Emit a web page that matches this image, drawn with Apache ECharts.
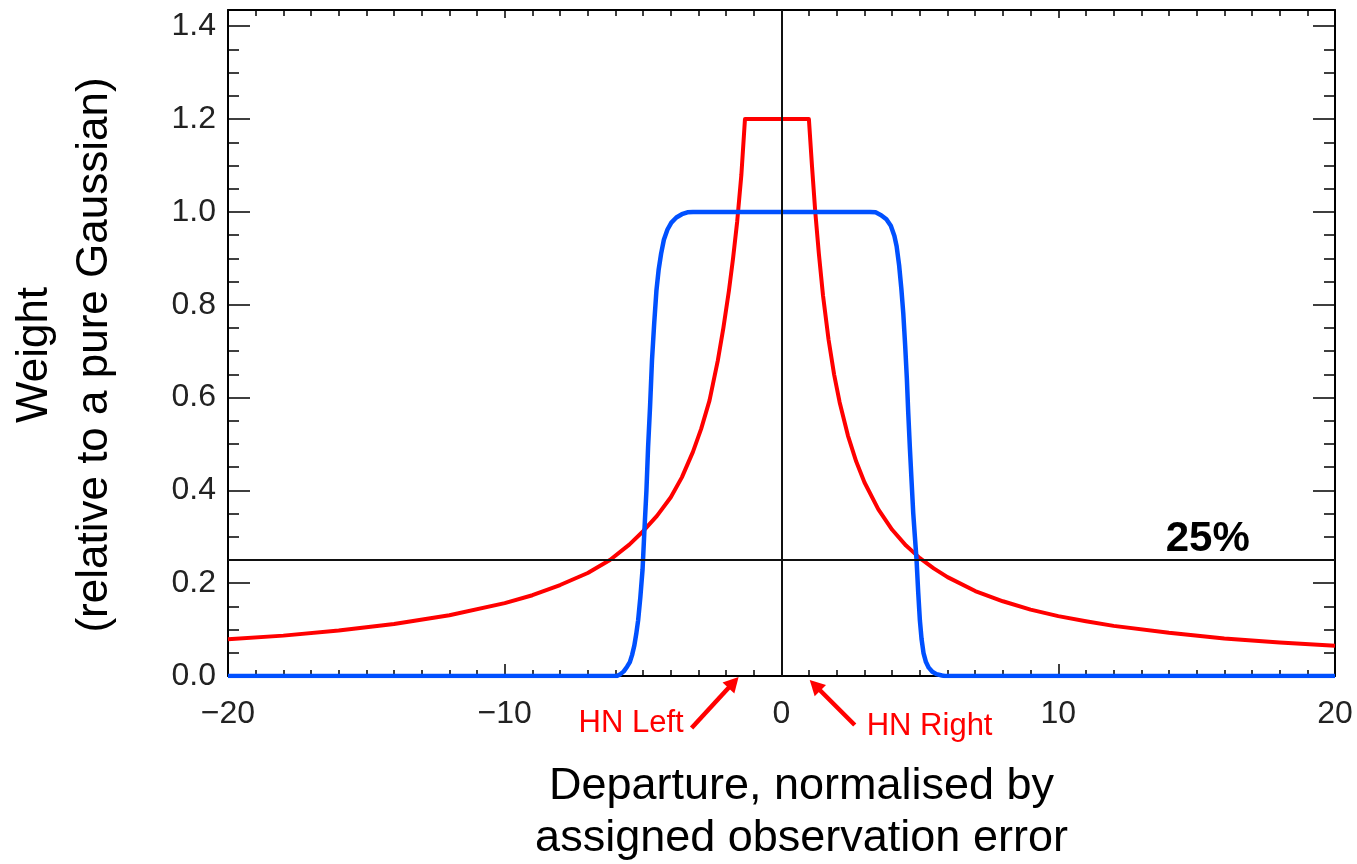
<!DOCTYPE html>
<html>
<head>
<meta charset="utf-8">
<title>Weight relative to a pure Gaussian</title>
<script src="https://cdn.jsdelivr.net/npm/echarts@6/dist/echarts.min.js"></script>
<style>
  html, body { margin: 0; padding: 0; background: #fff; }
  #chart { width: 1357px; height: 864px; }
</style>
</head>
<body>
<div id="chart"></div>
<script>
// red curve (Huber norm weight)
var redX = [-20, -18, -16, -14, -12, -10, -9, -8, -7, -6.2, -5.5, -5, -4.5, -4, -3.6, -3.2, -2.9, -2.6, -2.3, -2.1, -1.9, -1.75, -1.6, -1.45, -1.32,
            0.99, 1.1, 1.22, 1.35, 1.5, 1.7, 1.9, 2.1, 2.4, 2.7, 3.0, 3.5, 4.0, 4.5, 5.0, 5.5, 6, 7, 8, 9, 10, 11, 12, 14, 16, 18, 20];
var redW = [0.079, 0.087, 0.098, 0.112, 0.131, 0.157, 0.174, 0.196, 0.222, 0.25, 0.283, 0.312, 0.345, 0.385, 0.428, 0.483, 0.533, 0.594, 0.68, 0.75, 0.83, 0.9, 0.98, 1.08, 1.2,
            1.2, 1.1, 1.0, 0.91, 0.82, 0.725, 0.65, 0.59, 0.518, 0.462, 0.417, 0.359, 0.315, 0.281, 0.254, 0.232, 0.213, 0.183, 0.161, 0.143, 0.129, 0.118, 0.108, 0.093, 0.081, 0.072, 0.065];

// blue curve (pure Gaussian weight)
var blueX = [-20, -5.95, -5.82, -5.7, -5.58, -5.48, -5.4, -5.32, -5.25, -5.18, -5.1, -5.02, -4.95, -4.88, -4.82, -4.75, -4.68, -4.6, -4.52, -4.44, -4.35, -4.25, -4.12, -3.98, -3.8, -3.6, -3.4, -3.2,
             3.2, 3.4, 3.6, 3.79, 3.95, 4.08, 4.16, 4.25, 4.33, 4.4, 4.47, 4.53, 4.58, 4.64, 4.7, 4.76, 4.82, 4.88, 4.94, 5.0, 5.06, 5.13, 5.22, 5.32, 5.45, 5.6, 5.8, 5.9, 20];
var blueW = [0, 0, 0.004, 0.01, 0.02, 0.03, 0.045, 0.065, 0.09, 0.12, 0.17, 0.23, 0.318, 0.4, 0.494, 0.58, 0.68, 0.76, 0.83, 0.875, 0.91, 0.94, 0.962, 0.977, 0.988, 0.995, 0.999, 1.0,
             1.0, 0.999, 0.993, 0.984, 0.97, 0.948, 0.926, 0.885, 0.835, 0.782, 0.71, 0.64, 0.567, 0.49, 0.42, 0.351, 0.3, 0.25, 0.18, 0.12, 0.08, 0.05, 0.03, 0.018, 0.009, 0.004, 0.001, 0, 0];

var xTicks = [-20, -10, 0, 10, 20];
var yMajor = 0.2, yMinor = 0.05;
var threshold = 0.25;
var thresholdLabel = '25%';
var hnLabels = ['HN Left', 'HN Right'];
var hnTips = [-1.55, 1.02];

function pairs(xs, ys) {
  var out = [];
  for (var i = 0; i < xs.length; i++) out.push([xs[i], ys[i]]);
  return out;
}

var chart = echarts.init(document.getElementById('chart'));
var frame = { show: true, onZero: false, lineStyle: { color: '#000', width: 2 } };
var noLine = { show: false, onZero: false };
var tickStyle = { color: '#000', width: 1.5 };
var fontFam = '"Liberation Sans", Arial, Helvetica, sans-serif';

chart.setOption({
  animation: false,
  grid: { left: 228, right: 22, top: 10, bottom: 188, outerBoundsMode: 'none', containLabel: false },
  xAxis: [{
    type: 'value', position: 'bottom', min: xTicks[0], max: xTicks[xTicks.length - 1], interval: 10,
    axisLine: frame,
    axisTick: { inside: true, length: 12, lineStyle: tickStyle },
    minorTick: { show: true, splitNumber: 10, length: 6, lineStyle: tickStyle },
    splitLine: { show: false },
    axisLabel: { margin: 22, fontSize: 32, color: '#222', fontFamily: fontFam,
      formatter: function (v) { return v < 0 ? '\u2212' + Math.abs(v) : String(v); } },
    name: 'Departure, normalised by\nassigned observation error',
    nameLocation: 'middle', nameGap: 85,
    nameTextStyle: { fontSize: 45, lineHeight: 52, color: '#000', fontFamily: fontFam, padding: [0, 0, 0, 40] }
  }, {
    type: 'value', position: 'top', min: -20, max: 20, interval: 10,
    axisLine: frame,
    axisTick: { inside: true, length: 8, lineStyle: tickStyle },
    minorTick: { show: true, splitNumber: 10, length: 6, lineStyle: tickStyle },
    splitLine: { show: false }, axisLabel: { show: false }
  }],
  yAxis: [{
    type: 'value', position: 'left', min: 0, max: 1.435, interval: yMajor,
    axisLine: frame,
    axisTick: { inside: true, length: 22, lineStyle: tickStyle },
    splitLine: { show: false },
    axisLabel: { margin: 12, fontSize: 32, color: '#222', fontFamily: fontFam, showMaxLabel: false,
      formatter: function (v) { return v.toFixed(1); } },
    name: 'Weight\n(relative to a pure Gaussian)',
    nameLocation: 'middle', nameGap: 103, nameRotate: 90,
    nameTextStyle: { fontSize: 44, lineHeight: 60, color: '#000', fontFamily: fontFam, padding: [0, 24, 0, 0] }
  }, {
    type: 'value', position: 'left', min: 0, max: 1.435, interval: yMinor,
    axisLine: noLine,
    axisTick: { inside: true, length: 11, lineStyle: tickStyle },
    splitLine: { show: false }, axisLabel: { show: false }
  }, {
    type: 'value', position: 'right', min: 0, max: 1.435, interval: yMajor,
    axisLine: frame,
    axisTick: { inside: true, length: 22, lineStyle: tickStyle },
    splitLine: { show: false }, axisLabel: { show: false }
  }, {
    type: 'value', position: 'right', min: 0, max: 1.435, interval: yMinor,
    axisLine: noLine,
    axisTick: { inside: true, length: 11, lineStyle: tickStyle },
    splitLine: { show: false }, axisLabel: { show: false }
  }],
  series: [{
    name: 'Huber', type: 'line', data: pairs(redX, redW), showSymbol: false, symbol: 'none',
    lineStyle: { color: '#ff0000', width: 4, join: 'round' }, z: 3
  }, {
    name: 'Gaussian', type: 'line', data: pairs(blueX, blueW), showSymbol: false, symbol: 'none',
    lineStyle: { color: '#0050ff', width: 4.5, join: 'round' }, z: 4
  }, {
    name: 'ref', type: 'line', data: [], z: 6,
    markLine: {
      silent: true, symbol: 'none', animation: false,
      label: { show: false },
      lineStyle: { color: '#111', width: 2, type: 'solid' },
      data: [{ xAxis: 0 }, { yAxis: threshold }]
    },
    markPoint: {
      silent: true, symbol: 'circle', symbolSize: 1,
      itemStyle: { color: 'rgba(0,0,0,0)' },
      label: { show: true, formatter: thresholdLabel, offset: [0, -21], color: '#000',
        fontSize: 42, fontWeight: 'bold', fontFamily: fontFam },
      data: [{ coord: [15.4, threshold] }]
    }
  }]
});

// HN arrows below the x axis
var gfx = [];
var tails = [[-47, 51], [45, 45]];
var textOff = [[-55, 46], [57, 46]];
for (var i = 0; i < hnTips.length; i++) {
  var p = chart.convertToPixel({ xAxisIndex: 0, yAxisIndex: 0 }, [hnTips[i], 0]);
  var tip = [p[0], p[1] + (i === 0 ? 1 : 4)];
  var tail = [tip[0] + tails[i][0], tip[1] + tails[i][1]];
  var dx = tip[0] - tail[0], dy = tip[1] - tail[1];
  var len = Math.sqrt(dx * dx + dy * dy);
  var ux = dx / len, uy = dy / len, nx = -uy, ny = ux;
  var L = 15, W = 8;
  gfx.push({
    type: 'line', silent: true,
    shape: { x1: tail[0], y1: tail[1], x2: tip[0] - ux * L * 0.8, y2: tip[1] - uy * L * 0.8 },
    style: { stroke: '#ff0000', lineWidth: 4.5 }
  });
  gfx.push({
    type: 'polygon', silent: true,
    shape: { points: [tip, [tip[0] - ux * L + nx * W, tip[1] - uy * L + ny * W], [tip[0] - ux * L - nx * W, tip[1] - uy * L - ny * W]] },
    style: { fill: '#ff0000' }
  });
  gfx.push({
    type: 'text', silent: true,
    x: tip[0] + textOff[i][0], y: tip[1] + textOff[i][1],
    style: { text: hnLabels[i], fill: '#ff0000', font: '31px ' + fontFam,
      align: i === 0 ? 'right' : 'left', verticalAlign: 'middle' }
  });
}
chart.setOption({ graphic: gfx });
</script>
</body>
</html>
